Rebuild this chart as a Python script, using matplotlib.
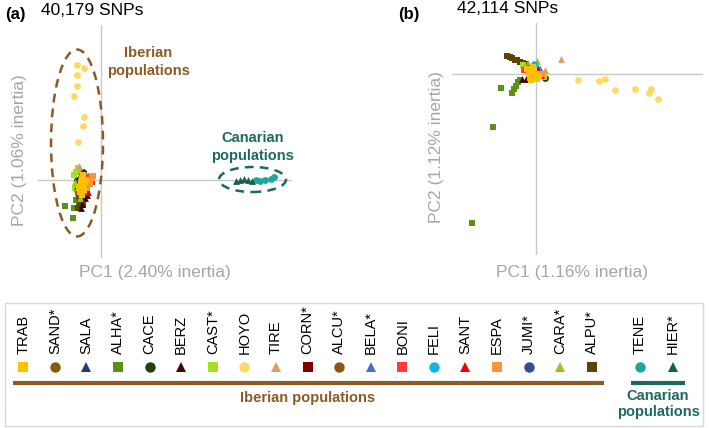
import matplotlib
matplotlib.use("Agg")
import matplotlib.pyplot as plt
from matplotlib.patches import Ellipse, Rectangle

plt.rcParams['font.family'] = ['Liberation Sans', 'DejaVu Sans']

# ---------------- data ----------------
populations = ["TRAB", "SAND*", "SALA", "ALHA*", "CACE", "BERZ", "CAST*", "HOYO", "TIRE",
               "CORN*", "ALCU*", "BELA*", "BONI", "FELI", "SANT", "ESPA", "JUMI*", "CARA*",
               "ALPU*", "TENE", "HIER*"]
iberian = populations[:19]
canarian = populations[19:]

# PCA scores, panel (a): 40,179 SNPs
pca_a = {
    "TRAB": ([-0.20, -0.18, -0.19, -0.17, -0.21, -0.16, -0.22, -0.15, -0.19, -0.18],
             [-0.02, -0.06, 0.02, -0.10, -0.12, -0.03, -0.07, 0.00, -0.15, 0.05]),
    "SAND*": ([-0.24, -0.22], [-0.10, -0.05]),
    "SALA": ([-0.17], [0.04]),
    "ALHA*": ([-0.36, -0.28, -0.27, -0.25, -0.22], [-0.26, -0.38, -0.28, -0.20, -0.24]),
    "CACE": ([-0.18, -0.24], [0.08, 0.00]),
    "BERZ": ([-0.16, -0.19, -0.20, -0.14], [-0.18, -0.24, -0.28, -0.15]),
    "CAST*": ([-0.25, -0.23, -0.27, -0.26], [0.08, 0.12, 0.05, -0.08]),
    "HOYO": ([-0.24, -0.17, -0.24, -0.24, -0.27, -0.17, -0.18, -0.23, -0.19],
             [1.15, 1.12, 1.05, 0.94, 0.84, 0.63, 0.54, 0.38, -0.05]),
    "TIRE": ([-0.22, -0.21, -0.13], [0.14, 0.10, 0.05]),
    "CORN*": ([-0.17, -0.14], [0.06, -0.10]),
    "ALCU*": ([-0.23, -0.12], [-0.14, 0.00]),
    "BELA*": ([-0.15], [0.05]),
    "BONI": ([-0.12, -0.16, -0.10, -0.09], [0.02, 0.00, 0.03, -0.02]),
    "FELI": ([-0.20], [0.04]),
    "SANT": ([-0.13, -0.24, -0.20], [-0.12, -0.06, 0.07]),
    "ESPA": ([-0.09, -0.11, -0.14, -0.08], [0.02, -0.04, -0.08, 0.04]),
    "JUMI*": ([-0.19], [-0.14]),
    "CARA*": ([-0.26, -0.21], [-0.02, -0.18]),
    "ALPU*": ([-0.22, -0.21, -0.23, -0.20, -0.18], [-0.16, -0.22, -0.28, -0.20, -0.25]),
    "TENE": ([1.55, 1.59, 1.64, 1.70, 1.73], [0.00, -0.01, 0.00, 0.01, 0.03]),
    "HIER*": ([1.35, 1.39, 1.43, 1.47, 1.51], [-0.01, 0.00, 0.01, 0.00, -0.01]),
}

# PCA scores, panel (b): 42,114 SNPs
pca_b = {
    "TRAB": ([-0.07, -0.04, -0.02, 0.00, -0.06, -0.03, 0.01, -0.09, -0.05, 0.03],
             [0.02, -0.01, 0.04, 0.00, -0.04, 0.07, -0.05, 0.05, -0.06, -0.03]),
    "SAND*": ([-0.05], [0.03]),
    "SALA": ([0.02], [0.06]),
    "ALHA*": ([-0.64, -0.43, -0.35, -0.24, -0.22, -0.20, -0.18, -0.16],
              [-1.49, -0.53, -0.14, -0.19, -0.15, -0.12, -0.08, -0.06]),
    "CACE": ([0.09], [-0.04]),
    "BERZ": ([-0.14, -0.10], [-0.05, -0.05]),
    "CAST*": ([-0.13, 0.08], [0.09, -0.03]),
    "HOYO": ([0.42, 0.63, 0.69, 0.79, 0.99, 1.15, 1.13, 1.22, -0.05],
             [-0.06, -0.07, -0.05, -0.16, -0.15, -0.15, -0.19, -0.25, 0.01]),
    "TIRE": ([0.25, 0.09], [0.15, 0.04]),
    "CORN*": ([0.03], [0.02]),
    "ALCU*": ([-0.08], [0.06]),
    "BELA*": ([0.04], [0.05]),
    "BONI": ([-0.12], [0.04]),
    "FELI": ([-0.02], [0.10]),
    "SANT": ([0.05, 0.02], [-0.01, 0.03]),
    "ESPA": ([0.06], [0.00]),
    "JUMI*": ([-0.01], [0.01]),
    "CARA*": ([0.01, -0.12, -0.08], [0.13, 0.08, 0.11]),
    "ALPU*": ([-0.29, -0.26, -0.24, -0.21, -0.19, -0.16, -0.13, -0.10],
              [0.18, 0.17, 0.16, 0.14, 0.14, 0.12, 0.11, 0.10]),
}

titles = ["40,179 SNPs", "42,114 SNPs"]
panel_tags = ["(a)", "(b)"]
pc1_labels = ["PC1 (2.40% inertia)", "PC1 (1.16% inertia)"]
pc2_labels = ["PC2 (1.06% inertia)", "PC2 (1.12% inertia)"]

# ---------------- styles ----------------
style = {
    "TRAB": ("s", "#FFC000"), "SAND*": ("o", "#7F6000"), "SALA": ("^", "#1F3E78"),
    "ALHA*": ("s", "#5A9218"), "CACE": ("o", "#243F0E"), "BERZ": ("^", "#3A0A0A"),
    "CAST*": ("s", "#A3E21A"), "HOYO": ("o", "#FFD966"), "TIRE": ("^", "#D9A05F"),
    "CORN*": ("s", "#820000"), "ALCU*": ("o", "#8B5513"), "BELA*": ("^", "#4472C4"),
    "BONI": ("s", "#FF3B3B"), "FELI": ("o", "#16B0EE"), "SANT": ("^", "#EE0000"),
    "ESPA": ("s", "#F9963A"), "JUMI*": ("o", "#2F4F8F"), "CARA*": ("^", "#92C820"),
    "ALPU*": ("s", "#5A4506"), "TENE": ("o", "#1BA898"), "HIER*": ("^", "#16604F"),
}
draw_order = ["HOYO", "ALHA*", "ALPU*", "BERZ", "SAND*", "CACE", "CAST*", "TIRE", "CARA*",
              "CORN*", "ALCU*", "SALA", "BELA*", "FELI", "JUMI*", "SANT", "BONI", "ESPA",
              "TRAB", "TENE", "HIER*"]
IB = "#8C5A24"
CA = "#1C6A5E"
GRAY = "#A6A6A6"
W, H = 709, 428

fig = plt.figure(figsize=(W / 100, H / 100), dpi=100)


def px_axes(x0, y0, x1, y1):
    return fig.add_axes([x0 / W, 1 - y1 / H, (x1 - x0) / W, (y1 - y0) / H])


ax_a = px_axes(38, 25, 292, 258)
ax_a.set_xlim(-0.63, 1.91)
ax_a.set_ylim(-0.78, 1.55)
ax_b = px_axes(452, 23, 703, 255)
ax_b.set_xlim(-0.84, 1.67)
ax_b.set_ylim(-1.81, 0.51)

for ax, data in ((ax_a, pca_a), (ax_b, pca_b)):
    ax.axhline(0, color="#C8C8C8", lw=1, zorder=1)
    ax.axvline(0, color="#C8C8C8", lw=1, zorder=1)
    for pop in draw_order:
        if pop in data:
            m, c = style[pop]
            xs, ys = data[pop]
            ax.scatter(xs, ys, marker=m, color=c, s=24, linewidths=0, zorder=3)
    ax.axis("off")

ax_a.add_patch(Ellipse((-0.24, 0.37), 0.52, 1.87, fill=False, ec=IB, lw=1.8,
                       ls=(0, (3.5, 2.5)), zorder=2))
ax_a.add_patch(Ellipse((1.515, 0.005), 0.67, 0.25, fill=False, ec=CA, lw=1.8,
                       ls=(0, (3.5, 2.5)), zorder=2))

# overlay for texts and legend
ov = fig.add_axes([0, 0, 1, 1])
ov.set_xlim(0, W)
ov.set_ylim(H, 0)
ov.axis("off")

ov.text(5, 14, panel_tags[0], fontsize=12, fontweight="bold", ha="left", va="center")
ov.text(41, 10, titles[0], fontsize=12.5, ha="left", va="center")
ov.text(398, 14, panel_tags[1], fontsize=12, fontweight="bold", ha="left", va="center")
ov.text(457, 8, titles[1], fontsize=12.5, ha="left", va="center")

ov.text(155, 272, pc1_labels[0], fontsize=12.5, color=GRAY, ha="center", va="center")
ov.text(20, 150, pc2_labels[0], fontsize=12.5, color=GRAY, ha="center", va="center", rotation=90)
ov.text(572, 272, pc1_labels[1], fontsize=12.5, color=GRAY, ha="center", va="center")
ov.text(437, 147, pc2_labels[1], fontsize=12.5, color=GRAY, ha="center", va="center", rotation=90)

ov.text(148, 62, "Iberian\npopulations", fontsize=10.5, fontweight="bold", color=IB,
        ha="center", va="center", linespacing=1.3)
ov.text(253, 147, "Canarian\npopulations", fontsize=10.5, fontweight="bold", color=CA,
        ha="center", va="center", linespacing=1.3)

# legend box
ov.add_patch(Rectangle((5, 303), 698, 123, fill=False, ec="#D9D9D9", lw=1))
for i, pop in enumerate(iberian):
    x = 23.3 + i * 31.58
    m, c = style[pop]
    ov.plot([x], [367], marker=m, color=c, markersize=7.5 if m != "s" else 6.5, mew=0, ls="none")
    ov.text(x, 354, pop, rotation=90, fontsize=10.5, ha="center", va="bottom")
for j, pop in enumerate(canarian):
    x = 640 + j * 32.7
    m, c = style[pop]
    ov.plot([x], [367], marker=m, color=c, markersize=7.5, mew=0, ls="none")
    ov.text(x, 354, pop, rotation=90, fontsize=10.5, ha="center", va="bottom")

ov.plot([13, 604], [382.7, 382.7], color=IB, lw=3, solid_capstyle="butt")
ov.plot([631, 685], [382.7, 382.7], color=CA, lw=3, solid_capstyle="butt")
ov.text(308, 398, "Iberian populations", fontsize=10.5, fontweight="bold", color=IB,
        ha="center", va="center")
ov.text(658, 404, "Canarian\npopulations", fontsize=10.5, fontweight="bold", color=CA,
        ha="center", va="center", linespacing=1.25)

fig.savefig("out.png", dpi=100)
